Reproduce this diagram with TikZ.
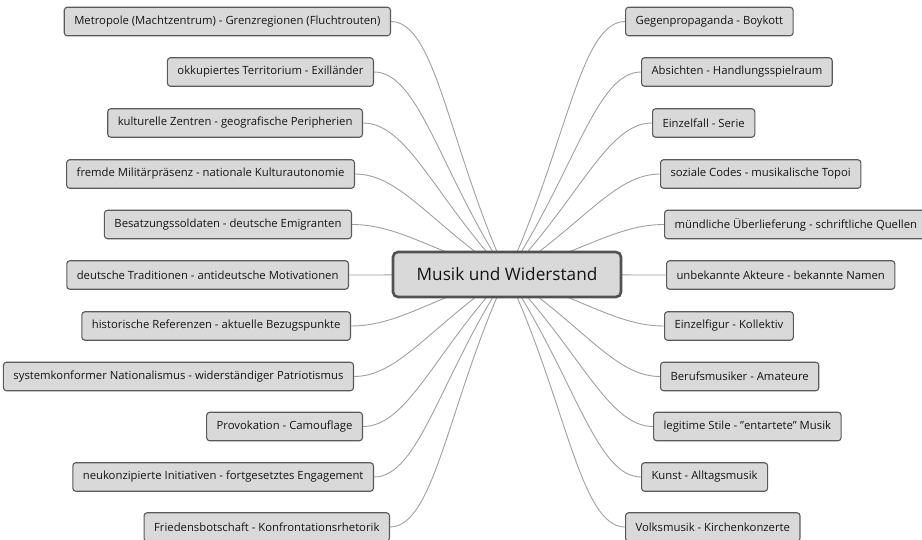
\documentclass[tikz,border=0pt]{standalone}
\usepackage{fontspec}
\setmainfont{Open Sans}
\usetikzlibrary{calc,backgrounds}
\definecolor{boxfill}{HTML}{D9D9D9}
\definecolor{boxline}{HTML}{5A5A5A}
\definecolor{conncol}{HTML}{A0A0A0}
\definecolor{txtcol}{HTML}{151515}
\tikzset{
  leaf/.style={draw=boxline, fill=boxfill, line width=1.1pt, rounded corners=3pt,
    minimum height=28.5pt, inner xsep=10pt, inner ysep=0pt, text=txtcol,
    font=\fontsize{11.3}{13}\selectfont},
  hub/.style={draw=boxline!90!black, fill=boxfill, line width=2.6pt, rounded corners=5pt,
    minimum width=228pt, minimum height=45pt, text=txtcol,
    font=\fontsize{17.2}{20}\selectfont},
  conn/.style={draw=conncol, line width=0.9pt}
}
\begin{document}
\begin{tikzpicture}[x=1pt,y=-1pt]
\useasboundingbox (0,0) rectangle (922,540);
\node[hub] (c) at (507,274.5) {Musik und Widerstand};
% left
\node[leaf, anchor=east] (l1) at (391,21.5) {Metropole (Machtzentrum) - Grenzregionen (Fluchtrouten)};
\node[leaf, anchor=east] (l2) at (374,72) {okkupiertes Territorium - Exilländer};
\node[leaf, anchor=east] (l3) at (363,123) {kulturelle Zentren - geografische Peripherien};
\node[leaf, anchor=east] (l4) at (355,174) {fremde Militärpräsenz - nationale Kulturautonomie};
\node[leaf, anchor=east] (l5) at (352,224.5) {Besatzungssoldaten - deutsche Emigranten};
\node[leaf, anchor=east] (l6) at (349,275) {deutsche Traditionen - antideutsche Motivationen};
\node[leaf, anchor=east] (l7) at (351,326) {historische Referenzen - aktuelle Bezugspunkte};
\node[leaf, anchor=east] (l8) at (354,376.5) {systemkonformer Nationalismus - widerständiger Patriotismus};
\node[leaf, anchor=east] (l9) at (363,426.5) {Provokation - Camouflage};
\node[leaf, anchor=east] (l10) at (374,477) {neukonzipierte Initiativen - fortgesetztes Engagement};
\node[leaf, anchor=east] (l11) at (390,527) {Friedensbotschaft - Konfrontationsrhetorik};
% right
\node[leaf, anchor=west] (r1) at (625,21.5) {Gegenpropaganda - Boykott};
\node[leaf, anchor=west] (r2) at (641,72) {Absichten - Handlungsspielraum};
\node[leaf, anchor=west] (r3) at (652,123) {Einzelfall - Serie};
\node[leaf, anchor=west] (r4) at (660,174) {soziale Codes - musikalische Topoi};
\node[leaf, anchor=west] (r5) at (664,224.5) {mündliche Überlieferung - schriftliche Quellen};
\node[leaf, anchor=west] (r6) at (666,275) {unbekannte Akteure - bekannte Namen};
\node[leaf, anchor=west] (r7) at (664,326) {Einzelfigur - Kollektiv};
\node[leaf, anchor=west] (r8) at (660,376.5) {Berufsmusiker - Amateure};
\node[leaf, anchor=west] (r9) at (653,426.5) {legitime Stile - {\char34}entartete{\char34} Musik};
\node[leaf, anchor=west] (r10) at (641,477) {Kunst - Alltagsmusik};
\node[leaf, anchor=west] (r11) at (625,527) {Volksmusik - Kirchenkonzerte};
\begin{pgfonlayer}{background}
\foreach \n in {l1,l2,l3,l4,l5,l6,l7,l8,l9,l10,l11}
  \draw[conn] (c.center) .. controls ($(c.center)!0.5!(\n.east)$) and ($(\n.east)+(45,0)$) .. (\n.east);
\foreach \n in {r1,r2,r3,r4,r5,r6,r7,r8,r9,r10,r11}
  \draw[conn] (c.center) .. controls ($(c.center)!0.5!(\n.west)$) and ($(\n.west)+(-45,0)$) .. (\n.west);
\end{pgfonlayer}
\end{tikzpicture}
\end{document}
